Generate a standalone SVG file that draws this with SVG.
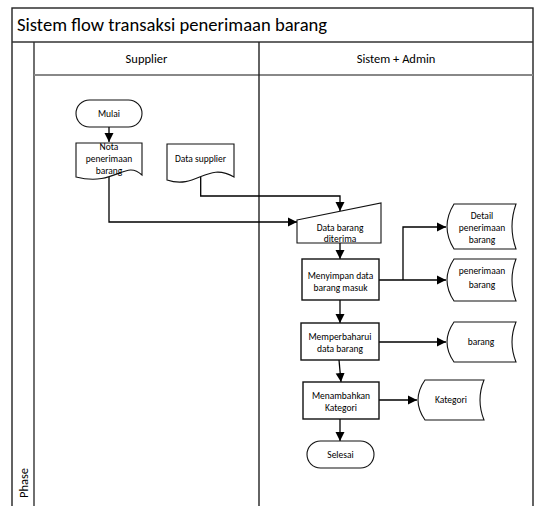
<svg xmlns="http://www.w3.org/2000/svg" width="538" height="506" viewBox="0 0 538 506">
<style>
text{font-family:Carlito,Calibri,"Liberation Sans",sans-serif;fill:#000}
.t{font-size:9.5px;text-anchor:middle}
.h{font-size:12.5px;text-anchor:middle}
.frame{fill:none;stroke:#222;stroke-width:1.4}
.shape{fill:#fff;stroke:#111;stroke-width:1.1}
.box{fill:#fff;stroke:#111;stroke-width:1.4}
.conn{fill:none;stroke:#000;stroke-width:1.3}
</style>
<defs>
<marker id="ah" markerWidth="10" markerHeight="10" refX="9" refY="5" orient="auto" markerUnits="userSpaceOnUse">
<path d="M0,0.5 L9,5 L0,9.5 Z" fill="#000"/>
</marker>
</defs>
<rect x="0" y="0" width="538" height="506" fill="#fff"/>
<g id="pool">
<rect x="12" y="8" width="521" height="510" class="frame"/>
<line x1="12" y1="42" x2="533" y2="42" stroke="#333" stroke-width="1.4"/>
<line x1="34" y1="42" x2="34" y2="506" stroke="#333" stroke-width="1.4"/>
<line x1="34" y1="75" x2="533" y2="75" stroke="#888" stroke-width="2"/>
<line x1="259" y1="42" x2="259" y2="506" stroke="#222" stroke-width="1.4"/>
<text x="17" y="31" style="font-size:18.6px">Sistem flow transaksi penerimaan barang</text>
<text x="146.5" y="62.5" class="h">Supplier</text>
<text x="396" y="62.5" class="h">Sistem + Admin</text>
<text transform="translate(28,483) rotate(-90)" class="h">Phase</text>
</g>
<g id="connectors">
<line x1="109" y1="127" x2="109" y2="142" class="conn" marker-end="url(#ah)"/>
<polyline points="109,177 109,222 297,222" class="conn" marker-end="url(#ah)"/>
<polyline points="200.7,177 200.7,196 340,196 340,211" class="conn" marker-end="url(#ah)"/>
<line x1="340" y1="243" x2="340" y2="259" class="conn" marker-end="url(#ah)"/>
<line x1="379" y1="280" x2="446" y2="280" class="conn" marker-end="url(#ah)"/>
<polyline points="403,280 403,227 446,227" class="conn" marker-end="url(#ah)"/>
<line x1="340" y1="300" x2="340" y2="323" class="conn" marker-end="url(#ah)"/>
<line x1="379" y1="342" x2="446" y2="342" class="conn" marker-end="url(#ah)"/>
<line x1="339" y1="360" x2="341" y2="382" class="conn" marker-end="url(#ah)"/>
<line x1="379" y1="400" x2="417" y2="400" class="conn" marker-end="url(#ah)"/>
<line x1="340" y1="419" x2="340" y2="441" class="conn" marker-end="url(#ah)"/>
</g>
<g id="mulai">
<rect x="76" y="100" width="66" height="27" rx="13.5" class="shape"/>
<text x="109" y="116.5" class="t">Mulai</text>
</g>
<g id="nota">
<path d="M76,143 H142 V175 C125,159 116,187 76,177 Z" class="shape"/>
<text x="109" y="150" class="t">Nota</text>
<text x="109" y="162" class="t">penerimaan</text>
<text x="109" y="174" class="t">barang</text>
</g>
<g id="data-supplier">
<path d="M167,144 H234 V177 C207,161 197,190 167,180 Z" class="shape"/>
<text x="200.5" y="162" class="t">Data supplier</text>
</g>
<g id="data-barang-diterima">
<path d="M297,220 L381,203 V243 H297 Z" class="shape"/>
<text x="340" y="230.5" class="t">Data barang</text>
<text x="340" y="242" class="t">diterima</text>
</g>
<g id="menyimpan">
<rect x="302" y="259" width="77" height="41" class="box"/>
<text x="340.5" y="279" class="t">Menyimpan data</text>
<text x="340.5" y="291" class="t">barang masuk</text>
</g>
<g id="detail-penerimaan">
<path d="M454,204 H516 Q508,226.5 516,249 H454 Q440,226.5 454,204 Z" class="shape"/>
<text x="482" y="218.5" class="t">Detail</text>
<text x="482" y="230.5" class="t">penerimaan</text>
<text x="482" y="242.5" class="t">barang</text>
</g>
<g id="penerimaan-barang">
<path d="M454,259 H516 Q508,280 516,301 H454 Q440,280 454,259 Z" class="shape"/>
<text x="482" y="274" class="t">penerimaan</text>
<text x="482" y="288" class="t">barang</text>
</g>
<g id="memperbaharui">
<rect x="301" y="323" width="78" height="37" class="box"/>
<text x="340" y="340" class="t">Memperbaharui</text>
<text x="340" y="351.5" class="t">data barang</text>
</g>
<g id="barang">
<path d="M454,322 H516 Q508,342 516,362 H454 Q440,342 454,322 Z" class="shape"/>
<text x="481" y="345" class="t">barang</text>
</g>
<g id="menambahkan">
<rect x="303" y="382" width="76" height="37" class="box"/>
<text x="341" y="399" class="t">Menambahkan</text>
<text x="341" y="410.5" class="t">Kategori</text>
</g>
<g id="kategori">
<path d="M425,380 H484 Q476,400 484,420 H425 Q411,400 425,380 Z" class="shape"/>
<text x="451" y="403" class="t">Kategori</text>
</g>
<g id="selesai">
<rect x="307" y="441" width="67" height="27" rx="13.5" class="shape"/>
<text x="340.5" y="457.5" class="t">Selesai</text>
</g>
</svg>
